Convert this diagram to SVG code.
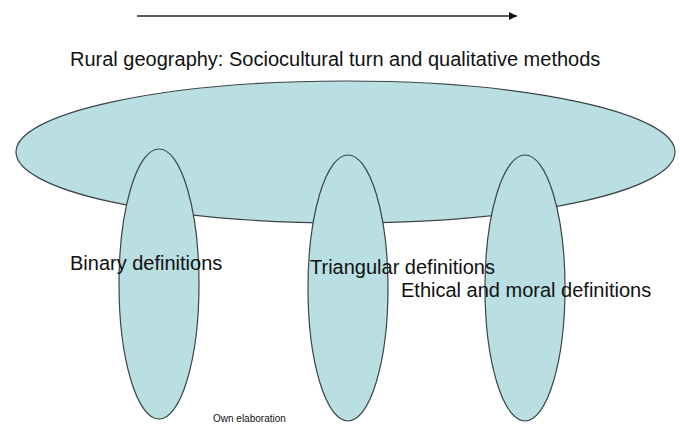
<svg xmlns="http://www.w3.org/2000/svg" width="680" height="424" viewBox="0 0 680 424">
<style>
.shape{fill:#b9dfe3;stroke:#3c4446;stroke-width:1.2}
.t{font-family:"Liberation Sans",Arial,sans-serif;fill:#111}
.big{font-size:20px}
.small{font-size:10px}
</style>
<defs>
<marker id="ah" viewBox="0 0 10 10" refX="10" refY="5" markerWidth="8" markerHeight="8" markerUnits="userSpaceOnUse" orient="auto">
<path d="M0,0 L10,5 L0,10 z" fill="#111"/>
</marker>
</defs>
<rect width="680" height="424" fill="#fff"/>
<g id="connectors">
<line x1="137" y1="16" x2="517" y2="16" stroke="#222" stroke-width="1.3" marker-end="url(#ah)"/>
</g>
<g id="rural-geography">
<ellipse class="shape" cx="345.5" cy="152" rx="329.5" ry="71"/>
</g>
<g id="binary">
<ellipse class="shape" cx="159" cy="284" rx="40" ry="135"/>
</g>
<g id="triangular">
<ellipse class="shape" cx="348" cy="288" rx="40" ry="133"/>
</g>
<g id="ethical">
<ellipse class="shape" cx="525" cy="288" rx="40" ry="133"/>
</g>
<g id="labels">
<text class="t big" x="70" y="66">Rural geography: Sociocultural turn and qualitative methods</text>
<text class="t big" x="70" y="270">Binary definitions</text>
<text class="t big" x="310" y="274">Triangular definitions</text>
<text class="t big" x="401" y="297">Ethical and moral definitions</text>
<text class="t small" x="213" y="422">Own elaboration</text>
</g>
</svg>
